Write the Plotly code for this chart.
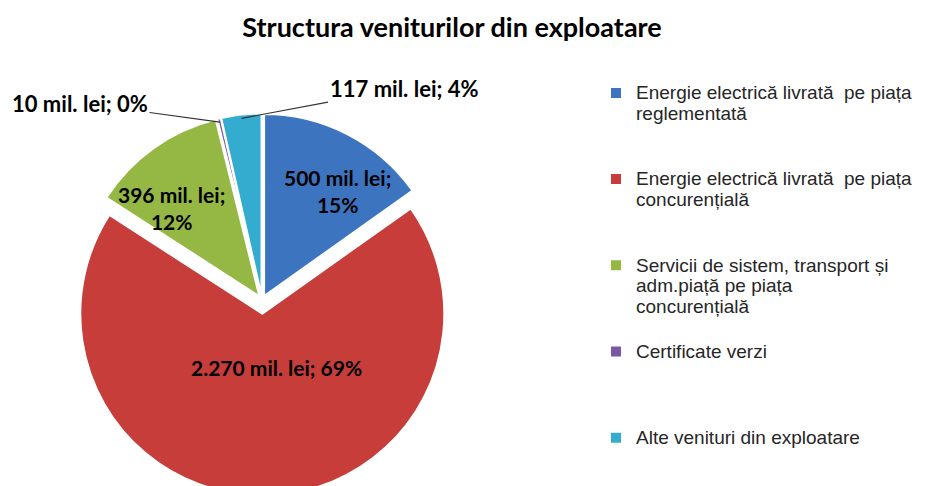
import math
import plotly.graph_objects as go

# ---- data ----
categories = [
    "Energie electrică livrată  pe piața<br>reglementată",
    "Energie electrică livrată  pe piața<br>concurențială",
    "Servicii de sistem, transport și<br>adm.piață pe piața<br>concurențială",
    "Certificate verzi",
    "Alte venituri din exploatare",
]
values = [500, 2270, 396, 10, 117]
colors = ["#3C74C0", "#C63D3A", "#94B843", "#7A59A3", "#33ACD0"]
pulls = [0.025, 0.075, 0.025, 0.025, 0.025]

W, H = 933, 505            # figure is a bit taller than the window: bottom of pie is cut off as in reference
cx, cy = 262, 300          # pie centre in pixels (from top-left)
R = 182                    # pie radius in pixels
half = R * (1 + max(pulls))

# legend entries: bigger glyphs, each entry padded to four lines (even spacing as in reference)
legend_labels = []
for i, c in enumerate(categories):
    n = c.count("<br>") + 1
    pad = 0 if i == len(categories) - 1 else max(0, 4 - n)
    lines = c.split("<br>")
    txt = "<br>".join(f"<span style='font-size:19px'>{ln}</span>" for ln in lines)
    legend_labels.append(txt + "<br> " * pad)

dom_y0 = (H - cy - half) / H
fig = go.Figure(go.Pie(
    labels=legend_labels,
    values=values,
    sort=False,
    direction="clockwise",
    rotation=0,
    pull=pulls,
    marker=dict(colors=colors, line=dict(color="white", width=2)),
    textinfo="none",
    domain=dict(x=[(cx - half) / W, (cx + half) / W], y=[dom_y0, dom_y0 + 2 * half / H]),
    hoverinfo="value+percent",
))

total = sum(values)
cum = 0
mids = []
for v in values:
    mids.append((cum + v / 2) / total * 2 * math.pi)
    cum += v

def tip(i, k=0.98):
    r = R * (1 + pulls[i]) * k
    return cx + r * math.sin(mids[i]), cy - r * math.cos(mids[i])

def fmt(v):
    return f"{v:,}".replace(",", ".")

def label(i, sep):
    pct = round(values[i] / total * 100)
    return f"{fmt(values[i])} mil. lei;{sep}{pct}%"

lab_font = dict(family="Lato", size=21, color="black", weight="bold")
annotations = []

# data labels placed on the slices
inside_pos = {0: (337, 191, "<br>"), 1: (276, 367, " "), 2: (171, 208, "<br>")}
for i, (tx, ty, sep) in inside_pos.items():
    annotations.append(dict(
        x=tx / W, y=1 - ty / H, xref="paper", yref="paper",
        xanchor="center", yanchor="middle", showarrow=False,
        text=label(i, sep), font=lab_font,
    ))

# outside labels for the two small slices (leader line to slice mid-angle)
outside_pos = {3: (80, 103), 4: (404, 88)}
for i, (tx, ty) in outside_pos.items():
    px, py = tip(i)
    annotations.append(dict(
        x=px / W, y=1 - py / H, xref="paper", yref="paper",
        text=label(i, " "),
        showarrow=True, arrowhead=0, arrowwidth=1.2, arrowcolor="#333333",
        ax=tx - px, ay=ty - py, standoff=0,
        font=dict(lab_font, size=22),
    ))

fig.update_layout(
    width=W, height=H,
    margin=dict(l=0, r=0, t=0, b=0),
    paper_bgcolor="white",
    title=dict(
        text="Structura veniturilor din exploatare",
        x=452 / W, xanchor="center", y=1 - 28 / H, yanchor="middle",
        font=dict(family="Lato", size=27, color="black", weight="bold"),
    ),
    legend=dict(
        x=596 / W, xanchor="left", y=1 - 76 / H, yanchor="top",
        font=dict(family="Liberation Sans, Arial", size=16, color="#262626"),
        valign="top", bgcolor="rgba(0,0,0,0)", itemwidth=30,
    ),
    annotations=annotations,
)

fig.write_html(
    "out.html",
    config={"displayModeBar": False},
    post_script="document.documentElement.style.overflow='hidden';"
                "document.body.style.margin='0';document.body.style.overflow='hidden';",
)
